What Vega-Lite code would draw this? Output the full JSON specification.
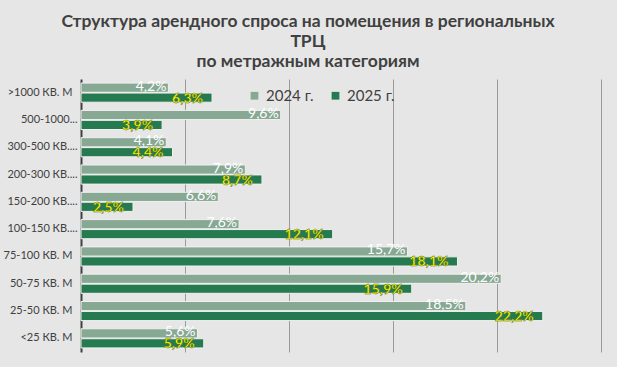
{
  "$schema": "https://vega.github.io/schema/vega-lite/v6.json",
  "autosize": {"type": "none"},
  "width": 520,
  "height": 273,
  "padding": {"left": 81, "top": 79, "right": 16, "bottom": 15},
  "background": "#e6e6e6",
  "title": {
    "text": ["Структура арендного спроса на помещения в региональных", "ТРЦ", "по метражным категориям"],
    "anchor": "middle",
    "frame": "group",
    "dx": -33,
    "offset": 9,
    "font": "Lato",
    "fontSize": 17.5,
    "fontWeight": "bold",
    "color": "#404040",
    "lineHeight": 20
  },
  "data": {
    "values": [
      {"cat": ">1000 КВ. М", "year": "2024 г.", "v": 4.2},
      {"cat": ">1000 КВ. М", "year": "2025 г.", "v": 6.3},
      {"cat": "500-1000...", "year": "2024 г.", "v": 9.6},
      {"cat": "500-1000...", "year": "2025 г.", "v": 3.9},
      {"cat": "300-500 КВ....", "year": "2024 г.", "v": 4.1},
      {"cat": "300-500 КВ....", "year": "2025 г.", "v": 4.4},
      {"cat": "200-300 КВ....", "year": "2024 г.", "v": 7.9},
      {"cat": "200-300 КВ....", "year": "2025 г.", "v": 8.7},
      {"cat": "150-200 КВ....", "year": "2024 г.", "v": 6.6},
      {"cat": "150-200 КВ....", "year": "2025 г.", "v": 2.5},
      {"cat": "100-150 КВ....", "year": "2024 г.", "v": 7.6},
      {"cat": "100-150 КВ....", "year": "2025 г.", "v": 12.1},
      {"cat": "75-100 КВ. М", "year": "2024 г.", "v": 15.7},
      {"cat": "75-100 КВ. М", "year": "2025 г.", "v": 18.1},
      {"cat": "50-75 КВ. М", "year": "2024 г.", "v": 20.2},
      {"cat": "50-75 КВ. М", "year": "2025 г.", "v": 15.9},
      {"cat": "25-50 КВ. М", "year": "2024 г.", "v": 18.5},
      {"cat": "25-50 КВ. М", "year": "2025 г.", "v": 22.2},
      {"cat": "<25 КВ. М", "year": "2024 г.", "v": 5.6},
      {"cat": "<25 КВ. М", "year": "2025 г.", "v": 5.9}
    ]
  },
  "transform": [
    {"calculate": "replace(format(datum.v, '.1f'), '.', ',') + '%'", "as": "label"}
  ],
  "encoding": {
    "y": {
      "field": "cat", "type": "nominal", "sort": null,
      "scale": {"paddingInner": 0.3, "paddingOuter": 0.15},
      "axis": {
        "title": null, "ticks": false, "domainColor": "#404040", "domainWidth": 2,
        "labelFont": "Lato", "labelFontSize": 11, "labelColor": "#404040",
        "labelPadding": {"condition": {"test": "indexof(datum.label, '...') >= 0", "value": 4}, "value": 9}
      }
    },
    "x": {
      "field": "v", "type": "quantitative",
      "scale": {"domain": [0, 25], "nice": false},
      "axis": {
        "title": null, "labels": false, "ticks": false, "domain": false,
        "values": [5, 10, 15, 20, 25], "grid": true, "gridColor": "#9a9a9a", "gridWidth": 1
      }
    },
    "yOffset": {"field": "year", "type": "nominal", "scale": {"paddingInner": 0.08}}
  },
  "layer": [
    {
      "mark": {"type": "bar", "stroke": "#f0f0f0", "strokeWidth": 1},
      "encoding": {
        "color": {
          "field": "year", "type": "nominal",
          "scale": {"domain": ["2024 г.", "2025 г."], "range": ["#87a893", "#267a50"]},
          "legend": {
            "title": null, "orient": "none", "direction": "horizontal",
            "legendX": 166, "legendY": 9, "symbolType": "square", "symbolSize": 60,
            "symbolStrokeWidth": 0, "labelFont": "Lato", "labelFontSize": 15,
            "labelColor": "#404040", "columnPadding": 14, "symbolOffset": 0, "labelOffset": 4
          }
        }
      }
    },
    {
      "transform": [{"filter": "datum.year == '2024 г.'"}],
      "mark": {"type": "text", "align": "right", "baseline": "middle", "dx": -2, "dy": -1, "font": "Lato", "fontSize": 14, "fill": "#ffffff"},
      "encoding": {"text": {"field": "label"}}
    },
    {
      "transform": [{"filter": "datum.year == '2025 г.'"}],
      "mark": {"type": "text", "align": "right", "baseline": "middle", "dx": -9, "dy": 1, "font": "Lato", "fontSize": 14, "fontWeight": "bold", "fill": "#ffff00", "stroke": "#4a5a20", "strokeWidth": 0.4},
      "encoding": {"text": {"field": "label"}}
    }
  ],
  "config": {"view": {"stroke": null}}
}
